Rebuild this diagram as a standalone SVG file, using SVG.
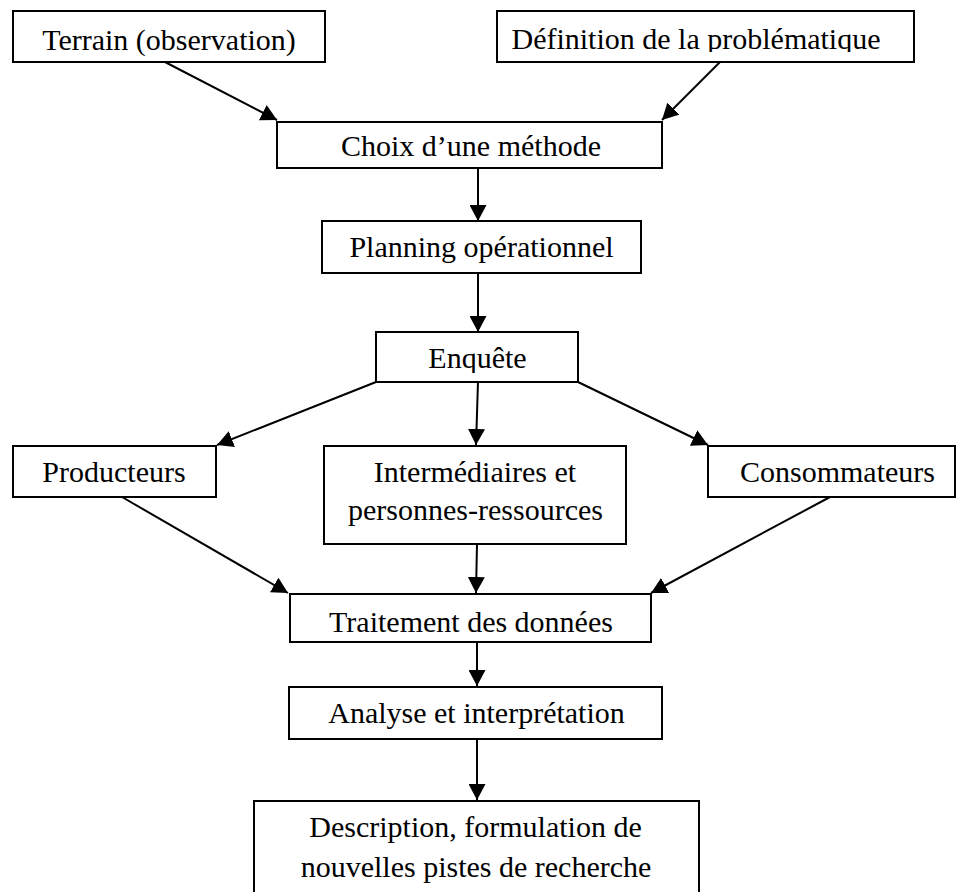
<svg xmlns="http://www.w3.org/2000/svg" width="958" height="892" viewBox="0 0 958 892">
<style>
.box{fill:#fff;stroke:#000;stroke-width:2}
.t{font-family:"Liberation Serif","Times New Roman",serif;font-size:30px;fill:#000;text-anchor:middle}
.c{stroke:#000;stroke-width:2;fill:none;marker-end:url(#ah)}
</style>
<defs>
<marker id="ah" markerUnits="userSpaceOnUse" markerWidth="17" markerHeight="17" refX="16" refY="8.5" orient="auto">
<path d="M0,0 L16,8.5 L0,17 z" fill="#000"/>
</marker>
<clipPath id="cDef"><rect x="0" y="0" width="958" height="52"/></clipPath>
<clipPath id="cChoix"><rect x="0" y="100" width="958" height="58"/></clipPath>
<clipPath id="cEnq"><rect x="0" y="330" width="958" height="43"/></clipPath>
</defs>
<rect width="958" height="892" fill="#fff"/>
<g id="connectors">
<line class="c" x1="165" y1="62" x2="277" y2="120"/>
<line class="c" x1="720" y1="62" x2="662" y2="120"/>
<line class="c" x1="478" y1="168" x2="478" y2="221"/>
<line class="c" x1="478" y1="273" x2="478" y2="332"/>
<line class="c" x1="376" y1="382" x2="217" y2="445"/>
<line class="c" x1="478" y1="382" x2="476" y2="445"/>
<line class="c" x1="578" y1="382" x2="708" y2="445"/>
<line class="c" x1="122" y1="497" x2="288" y2="593"/>
<line class="c" x1="477" y1="544" x2="476" y2="593"/>
<line class="c" x1="830" y1="497" x2="651" y2="593"/>
<line class="c" x1="477" y1="642" x2="477" y2="686"/>
<line class="c" x1="477" y1="739" x2="477" y2="800"/>
</g>
<g id="terrain"><rect class="box" x="13" y="11" width="312" height="51"/><text class="t" x="169" y="50">Terrain (observation)</text></g>
<g id="definition"><rect class="box" x="497" y="11" width="417" height="51"/><text class="t" x="696" y="49" clip-path="url(#cDef)">Définition de la problématique</text></g>
<g id="choix"><rect class="box" x="277" y="122" width="385" height="46"/><text class="t" x="471" y="156" clip-path="url(#cChoix)">Choix d’une méthode</text></g>
<g id="planning"><rect class="box" x="322" y="221" width="319" height="52"/><text class="t" x="481.5" y="257">Planning opérationnel</text></g>
<g id="enquete"><rect class="box" x="376" y="332" width="202" height="50"/><text class="t" x="477.5" y="368" clip-path="url(#cEnq)">Enquête</text></g>
<g id="producteurs"><rect class="box" x="13" y="446" width="203" height="51"/><text class="t" x="114" y="482">Producteurs</text></g>
<g id="intermediaires"><rect class="box" x="324" y="446" width="302" height="98"/><text class="t" x="475" y="482">Intermédiaires et</text><text class="t" x="475.5" y="520">personnes-ressources</text></g>
<g id="consommateurs"><rect class="box" x="708" y="446" width="247" height="51"/><text class="t" x="837.5" y="482">Consommateurs</text></g>
<g id="traitement"><rect class="box" x="290" y="594" width="361" height="48"/><text class="t" x="471" y="632">Traitement des données</text></g>
<g id="analyse"><rect class="box" x="289" y="687" width="373" height="52"/><text class="t" x="476.5" y="723">Analyse et interprétation</text></g>
<g id="description"><rect class="box" x="254" y="801" width="445" height="100"/><text class="t" x="475.5" y="837">Description, formulation de</text><text class="t" x="476" y="877">nouvelles pistes de recherche</text></g>
</svg>
